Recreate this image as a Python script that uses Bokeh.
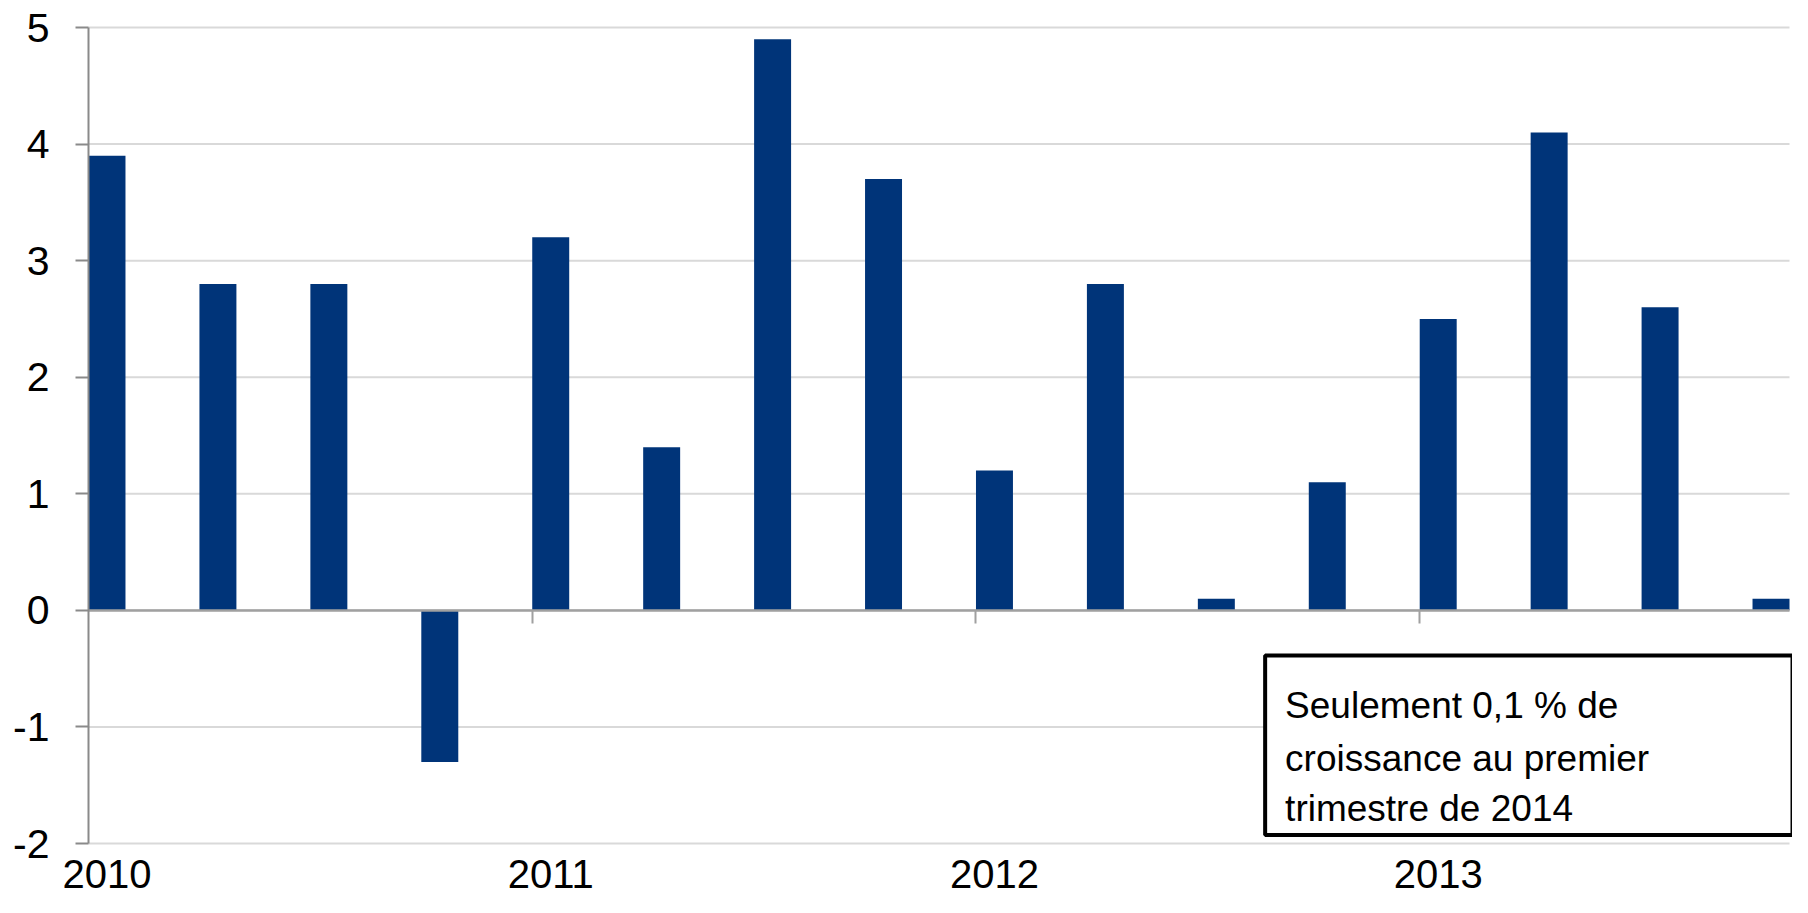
from bokeh.plotting import figure
from bokeh.models import (Range1d, FixedTicker, LinearAxis, BoxAnnotation, Label,
                          ColumnDataSource)
from bokeh.embed import file_html
from bokeh.resources import INLINE

# ---- data ----
quarters = ["2010T1", "2010T2", "2010T3", "2010T4",
            "2011T1", "2011T2", "2011T3", "2011T4",
            "2012T1", "2012T2", "2012T3", "2012T4",
            "2013T1", "2013T2", "2013T3", "2013T4"]
growth = [3.9, 2.8, 2.8, -1.3,
          3.2, 1.4, 4.9, 3.7,
          1.2, 2.8, 0.1, 1.1,
          2.5, 4.1, 2.6, 0.1]
year_labels = ["2010", "2011", "2012", "2013"]
y_ticks = [-2, -1, 0, 1, 2, 3, 4, 5]
note_lines = ["Seulement 0,1 % de", "croissance au premier", "trimestre de 2014"]

FONT = "Liberation Sans"
BAR_COLOR = "#003479"
n = len(quarters)
idx = list(range(n))
bar_w = 1 / 3

# layout (pixels): the frame fills the whole canvas, axes are placed inside it
W, H = 1792, 897
LEFT, TOP = 88, 27          # where the bar area starts on the canvas
PLOT_W_PX = 1701            # width of the bar area
PLOT_H_PX = 816             # height from -2 to 5
y_lo, y_hi = min(y_ticks), max(y_ticks)
px_per_x = PLOT_W_PX / (n - 1 + bar_w)
px_per_y = PLOT_H_PX / (y_hi - y_lo)
x_bar_start = -bar_w / 2
x_bar_end = n - 1 + bar_w / 2
x_start = x_bar_start - LEFT / px_per_x
x_end = x_start + W / px_per_x
y_top = y_hi + TOP / px_per_y
y_start = y_top - H / px_per_y

src = ColumnDataSource(dict(x=idx, top=growth, q=quarters))

p = figure(width=W, height=H, output_backend="svg", toolbar_location=None,
           x_range=Range1d(x_start, x_end),
           y_range=Range1d(y_start, y_top),
           min_border_left=0, min_border_right=0, min_border_top=0,
           min_border_bottom=0)
p.outline_line_color = None
p.background_fill_color = "white"
p.border_fill_color = "white"
p.xgrid.visible = False
p.ygrid.visible = False

# horizontal gridlines at the y ticks, limited to the bar area
p.segment(x0=[x_bar_start] * len(y_ticks), x1=[x_bar_end] * len(y_ticks),
          y0=y_ticks, y1=y_ticks, line_color="#d9d9d9", line_width=2,
          level="underlay")

p.vbar(x="x", top="top", bottom=0, width=bar_w, source=src,
       fill_color=BAR_COLOR, line_color=None)

# y axis
ya = p.yaxis[0]
ya.fixed_location = x_bar_start
ya.ticker = FixedTicker(ticks=y_ticks)
ya.bounds = (y_lo, y_hi)
ya.major_label_overrides = {t: str(t) for t in y_ticks}
ya.axis_line_color = "#8a8a8a"
ya.axis_line_width = 2
ya.major_tick_line_color = "#8a8a8a"
ya.major_tick_line_width = 2
ya.major_tick_out = 13
ya.major_tick_in = 0
ya.minor_tick_line_color = None
ya.major_label_standoff = 26
ya.major_label_text_font = FONT
ya.major_label_text_font_size = "41px"
ya.major_label_text_color = "black"

# x axis at zero: line + year-boundary ticks
xa = p.xaxis[0]
xa.fixed_location = 0
xa.bounds = (x_bar_start, x_bar_end)
year_starts = [i * 4 for i in range(1, len(year_labels))]
xa.ticker = FixedTicker(ticks=[s - bar_w / 2 for s in year_starts])
xa.axis_line_color = "#a0a0a0"
xa.axis_line_width = 2.5
xa.major_tick_line_color = "#a0a0a0"
xa.major_tick_line_width = 2
xa.major_tick_out = 13
xa.major_tick_in = 0
xa.minor_tick_line_color = None
xa.major_label_text_alpha = 0
xa.major_label_text_font_size = "1px"

# year labels at the bottom
label_pos = [i * 4 for i in range(len(year_labels))]
la = LinearAxis(fixed_location=y_lo)
la.ticker = FixedTicker(ticks=label_pos)
la.major_label_overrides = {pos: lab for pos, lab in zip(label_pos, year_labels)}
la.axis_line_color = None
la.major_tick_line_color = None
la.minor_tick_line_color = None
la.major_tick_out = 0
la.major_tick_in = 0
la.major_label_standoff = 16
la.major_label_text_font = FONT
la.major_label_text_font_size = "40px"
la.major_label_text_color = "black"
p.add_layout(la, "below")

# annotation box
box = BoxAnnotation(left=10.44, right=x_end, top=-0.387, bottom=-1.927,
                    fill_color="white", fill_alpha=1.0,
                    line_color="black", line_width=4, line_alpha=1.0)
p.add_layout(box)

for line, yy in zip(note_lines, [-0.816, -1.271, -1.700]):
    p.add_layout(Label(x=10.62, y=yy, text=line, text_font=FONT,
                       text_font_size="37px", text_color="black",
                       text_baseline="alphabetic", text_align="left"))

open("out.html", "w").write(file_html(p, INLINE))
